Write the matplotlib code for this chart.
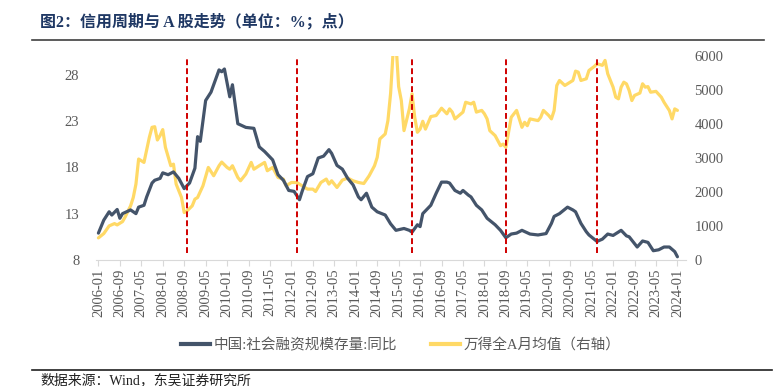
import matplotlib
matplotlib.use("Agg")
import matplotlib.pyplot as plt
from matplotlib.lines import Line2D

# 中国:社会融资规模存量:同比 (%, left axis)
tsf_dates = [
    "2006-01", "2006-03", "2006-05", "2006-06", "2006-08", "2006-09", "2006-10",
    "2007-01", "2007-03", "2007-04", "2007-06", "2007-07", "2007-09", "2007-10", "2007-12",
    "2008-01", "2008-03", "2008-05", "2008-07", "2008-09", "2008-11",
    "2009-01", "2009-02", "2009-03", "2009-05", "2009-07", "2009-10", "2009-11", "2009-12",
    "2010-02", "2010-03", "2010-05", "2010-08", "2010-11",
    "2011-01", "2011-03", "2011-06", "2011-08", "2011-10", "2011-12",
    "2012-02", "2012-04", "2012-05", "2012-07", "2012-09", "2012-11",
    "2013-01", "2013-03", "2013-04", "2013-06", "2013-08", "2013-10", "2013-12",
    "2014-02", "2014-03", "2014-05", "2014-07", "2014-09", "2014-12",
    "2015-02", "2015-04", "2015-07", "2015-09", "2015-10", "2015-12",
    "2016-01", "2016-02", "2016-04", "2016-05", "2016-07", "2016-09", "2016-11", "2016-12",
    "2017-02", "2017-04", "2017-05", "2017-07", "2017-08", "2017-10", "2017-12",
    "2018-02", "2018-05", "2018-07", "2018-09", "2018-11",
    "2019-01", "2019-03", "2019-06", "2019-09", "2019-12",
    "2020-02", "2020-03", "2020-05", "2020-08", "2020-10", "2020-11",
    "2021-01", "2021-03", "2021-04", "2021-07", "2021-09", "2021-11",
    "2022-01", "2022-04", "2022-06", "2022-07", "2022-10", "2022-12",
    "2023-02", "2023-04", "2023-06", "2023-08", "2023-10", "2023-12", "2024-01",
]
tsf_yoy = [
    10.9, 12.3, 13.2, 12.85, 13.45, 12.5, 13.0,
    13.4, 13.0, 13.7, 13.9, 14.8, 16.3, 16.6, 16.8,
    17.4, 17.2, 17.5, 16.8, 15.7, 16.3,
    17.9, 21.3, 20.8, 25.2, 26.1, 28.5, 28.3, 28.6,
    25.6, 26.9, 22.7, 22.3, 22.2,
    20.2, 19.7, 18.8, 17.2, 16.6, 15.5,
    15.4, 14.5, 15.4, 17.0, 17.3, 19.0,
    19.2, 19.9, 19.5, 18.2, 17.8, 16.8, 16.1,
    14.8, 14.5, 15.2, 13.7, 13.2, 12.85,
    11.9, 11.2, 11.4, 11.2, 11.0, 11.8,
    11.6, 13.0, 13.6, 13.9, 15.2, 16.4, 16.4, 16.3,
    15.5, 15.2, 15.5, 15.0, 14.8, 13.9, 13.4,
    12.5, 11.8, 11.2, 10.4, 10.8,
    10.9, 11.2, 10.8, 10.7, 10.85,
    11.95, 12.7, 13.0, 13.7, 13.4, 13.2,
    11.95, 11.05, 10.7, 10.0, 10.25, 10.8,
    10.65, 11.2, 10.6, 10.5, 9.4, 10.05,
    9.9, 9.0, 9.1, 9.4, 9.4, 8.9, 8.35,
]

# 万得全A月均值 (points, right axis)
wind_dates = [
    "2006-01", "2006-03", "2006-05", "2006-07", "2006-08", "2006-10", "2006-11",
    "2007-01", "2007-02", "2007-03", "2007-04", "2007-06", "2007-08", "2007-09",
    "2007-10", "2007-11", "2007-12", "2008-01", "2008-02", "2008-04", "2008-05",
    "2008-06", "2008-08", "2008-09", "2008-10", "2008-12",
    "2009-01", "2009-02", "2009-04", "2009-06", "2009-08", "2009-10", "2009-11",
    "2010-01", "2010-02", "2010-03", "2010-05", "2010-06", "2010-08", "2010-10", "2010-11",
    "2011-01", "2011-03", "2011-04", "2011-06", "2011-08", "2011-10", "2011-11",
    "2012-01", "2012-03", "2012-05", "2012-07", "2012-09", "2012-10", "2012-12",
    "2013-02", "2013-03", "2013-04", "2013-06", "2013-08", "2013-10", "2013-12",
    "2014-02", "2014-04", "2014-06", "2014-08", "2014-09", "2014-10", "2014-12",
    "2015-01", "2015-02", "2015-03", "2015-04", "2015-05", "2015-06", "2015-07",
    "2015-09", "2015-10", "2015-11", "2015-12",
    "2016-01", "2016-02", "2016-03", "2016-05", "2016-07", "2016-09", "2016-11", "2016-12",
    "2017-01", "2017-02", "2017-05", "2017-06", "2017-08", "2017-09", "2017-10", "2017-12",
    "2018-01", "2018-02", "2018-03", "2018-05", "2018-07", "2018-08", "2018-09",
    "2018-10", "2018-11", "2019-01", "2019-03", "2019-04", "2019-05", "2019-06",
    "2019-09", "2019-10", "2019-11", "2020-01", "2020-02", "2020-03", "2020-04", "2020-05",
    "2020-07", "2020-09", "2020-10", "2020-11", "2020-12", "2021-01", "2021-03", "2021-04",
    "2021-06", "2021-07", "2021-09", "2021-10", "2021-11", "2022-01", "2022-02",
    "2022-03", "2022-04", "2022-05", "2022-06", "2022-07", "2022-08", "2022-09",
    "2022-11", "2022-12", "2023-01", "2023-02", "2023-03", "2023-05", "2023-07",
    "2023-08", "2023-10", "2023-11", "2023-12", "2024-01",
]
wind_avg = [
    650, 777, 1003, 1071, 1032, 1130, 1268,
    1593, 1838, 2233, 2970, 2870, 3608, 3903,
    3920, 3530, 3660, 3835, 3313, 2773, 2820,
    2233, 1838, 1396, 1440, 1593,
    1790, 1838, 2183, 2723, 2478, 2773, 2880,
    2723, 2670, 2773, 2428, 2330, 2528, 2870, 2670,
    2773, 2870, 2625, 2723, 2428, 2380, 2183,
    2280, 2280, 2183, 2085, 2085, 2015, 2280,
    2380, 2233, 2330, 2133, 2350, 2410, 2330,
    2280, 2250, 2478, 2773, 3018, 3560, 3708,
    4100, 4900, 6200, 6400, 5100, 4690, 3805,
    4445, 4888, 4198, 3756,
    3850, 4080, 3850, 4218, 4250, 4465, 4300, 4445,
    4350, 4150, 4350, 4640, 4590, 4640, 4350, 4400,
    4300, 4150, 3805, 3658, 3363, 3410, 3313,
    3755, 4198, 4400, 3903, 4050, 3950, 4150,
    4100, 4198, 4400, 4250, 4150, 4395, 5133, 5280,
    5133, 5230, 5280, 5555, 5525, 5280, 5330, 5575,
    5693, 5773, 5725, 5870, 5478, 5083, 4788,
    4740, 5083, 5230, 5180, 4985, 4690, 4840,
    4910, 5183, 5083, 5100, 4935, 4960, 4788,
    4640, 4395, 4150, 4445, 4400,
]

# credit-cycle bottoms marked with red dashed lines
cycle_bottoms = ["2008-10", "2012-03", "2015-10", "2018-09", "2021-07"]

tick_labels = [f"{2006 + (m // 12)}-{m % 12 + 1:02d}" for m in range(0, 217, 8)]


def month_idx(s):
    y, m = s.split("-")
    return (int(y) - 2006) * 12 + int(m) - 1


NAVY = "#44546a"
GOLD = "#ffd966"
RED = "#d00000"
GRAY = "#595959"
SERIF = ["Liberation Serif", "Noto Sans CJK SC"]

fig = plt.figure(figsize=(7.74, 3.86), dpi=100)
W, H = 774, 386
ax = fig.add_axes([96 / W, 1 - 260 / H, (686 - 96) / W, (260 - 56) / H])
ax2 = ax.twinx()
ax.set_zorder(ax2.get_zorder() + 1)   # navy line above the gold one
ax.patch.set_visible(False)

ax2.plot([month_idx(d) for d in wind_dates], wind_avg, color=GOLD, lw=2.3,
         solid_joinstyle="round", solid_capstyle="round")
ax.plot([month_idx(d) for d in tsf_dates], tsf_yoy, color=NAVY, lw=2.3,
        solid_joinstyle="round", solid_capstyle="round")
for d in cycle_bottoms:
    ax.axvline(month_idx(d), ymin=0.035, ymax=0.99, color=RED, lw=1.4,
               linestyle=(0, (3, 1.6)), zorder=5)

ax.set_xlim(-0.9, 219.2)
ax.set_ylim(8, 30)
ax2.set_ylim(0, 6000)
ax.set_yticks([8, 13, 18, 23, 28])
ax2.set_yticks(range(0, 6001, 1000))
ax.set_xticks(range(0, 217, 8))
ax.set_xticklabels(tick_labels, rotation=90)

for a in (ax, ax2):
    for side in ("top", "left", "right"):
        a.spines[side].set_visible(False)
    a.spines["bottom"].set_color("#d9d9d9")
ax2.spines["bottom"].set_visible(False)

ax.tick_params(axis="y", length=0, pad=12, labelsize=10.5, labelcolor=GRAY)
ax2.tick_params(axis="y", length=0, pad=6, labelsize=10.5, labelcolor=GRAY)
ax.tick_params(axis="x", length=4, color="#d9d9d9", pad=2, labelsize=10.5, labelcolor=GRAY)
for lab in ax.get_xticklabels() + ax.get_yticklabels() + ax2.get_yticklabels():
    lab.set_fontfamily(SERIF)

handles = [Line2D([], [], color=NAVY, lw=3), Line2D([], [], color=GOLD, lw=3)]
leg = fig.legend(handles, ["中国:社会融资规模存量:同比", "万得全A月均值（右轴）"],
                 loc="center", bbox_to_anchor=(401 / W, 1 - 345 / H), ncol=2,
                 frameon=False, handlelength=2.0, handletextpad=0.25, columnspacing=2.3,
                 prop={"family": SERIF, "size": 10.5, "weight": "light"})
for t in leg.get_texts():
    t.set_color(GRAY)

fig.text(40 / W, 1 - 22 / H, "图2：信用周期与 A 股走势（单位：%；点）", ha="left", va="center",
         fontsize=11.5, fontweight="bold", color="#1f3864",
         family=["Liberation Serif", "Noto Sans CJK SC"])
fig.add_artist(Line2D([32 / W, 764 / W], [1 - 40 / H, 1 - 40 / H], color="#404040", lw=1.2))
fig.add_artist(Line2D([32 / W, 772 / W], [1 - 370 / H, 1 - 370 / H], color="#202020", lw=1.2))
fig.text(40 / W, 1 - 373 / H, "数据来源：Wind，东吴证券研究所", ha="left", va="top",
         fontsize=10, color="#202020", family=SERIF)

fig.savefig("out.png", dpi=100)
